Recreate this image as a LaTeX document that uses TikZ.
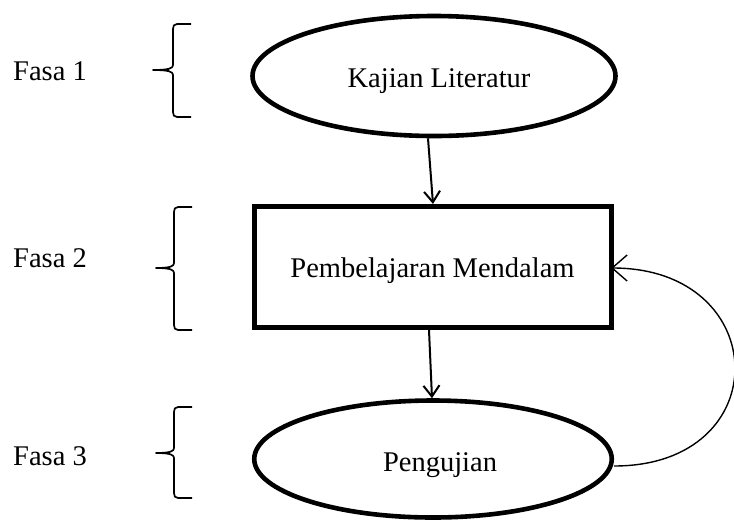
\documentclass[tikz,border=0pt]{standalone}
\usepackage{fontspec}
\setmainfont{Liberation Serif}
\usetikzlibrary{shapes.geometric,arrows.meta}
\newcommand{\fasabrace}[5]{% x vertical, top, tip y, bottom, tip x ; hook end = x+18
  \draw[bracestyle] ({#1+18},#2) -- ({#1+4},#2) .. controls ({#1+1},#2) and (#1,{#2+2}) .. (#1,{#2+5})
    -- (#1,{#3-5}) .. controls (#1,{#3-2}) and ({#1-3},#3) .. (#5,#3)
    .. controls ({#1-3},#3) and (#1,{#3+2}) .. (#1,{#3+5})
    -- (#1,{#4-5}) .. controls (#1,{#4-2}) and ({#1+1},#4) .. ({#1+4},#4) -- ({#1+18},#4);
  \draw[line width=2.6pt] (#5,#3) -- ({#1-4},#3);}
\begin{document}
\begin{tikzpicture}[x=1pt,y=-1pt,
  txt/.style={font=\fontsize{28.5}{34}\selectfont, inner sep=0pt, anchor=base},
  oval/.style={draw, ellipse, line width=4.6pt, inner sep=0pt},
  boxshape/.style={draw, rectangle, line width=4.6pt, inner sep=0pt},
  flow/.style={line width=2pt, -{Straight Barb[length=11pt,width=16pt,line width=2pt]}},
  loopback/.style={line width=1.4pt, -{Straight Barb[length=15pt,width=26pt,line width=1.4pt]}},
  bracestyle/.style={line width=1.7pt, line join=round}]
\useasboundingbox (0,0) rectangle (734,523);
\fill[white] (0,0) rectangle (734,523);

% shapes
\node[oval, minimum width=363pt, minimum height=120pt] (k) at (434,76) {};
\node[boxshape, minimum width=357.5pt, minimum height=121.5pt] (r) at (433,267) {};
\node[oval, minimum width=357.5pt, minimum height=117pt] (p) at (433,459) {};

% texts
\node[txt] (kt) at (439,87) {Kajian Literatur};
\node[txt] (rt) at (432.5,277) {Pembelajaran Mendalam};
\node[txt] (pt) at (440,471) {Pengujian};

\node[txt, anchor=base west] (f1) at (13,80) {Fasa 1};
\node[txt, anchor=base west] (f2) at (13,267) {Fasa 2};
\node[txt, anchor=base west] (f3) at (13,465) {Fasa 3};

% braces
\fasabrace{173}{24}{70}{117}{153}
\fasabrace{174}{207}{268}{330}{156}
\fasabrace{174}{407}{453}{498}{156}

% connectors
\draw[flow] ([xshift=-6pt]k.south) -- (r.north);
\draw[flow] ([xshift=-4pt]r.south) -- ([xshift=-1pt]p.north);
\draw[loopback] ([yshift=-7pt]p.east) .. controls (778,466) and (773,268) .. ([xshift=-3pt,yshift=-1pt]r.east);
\end{tikzpicture}
\end{document}
